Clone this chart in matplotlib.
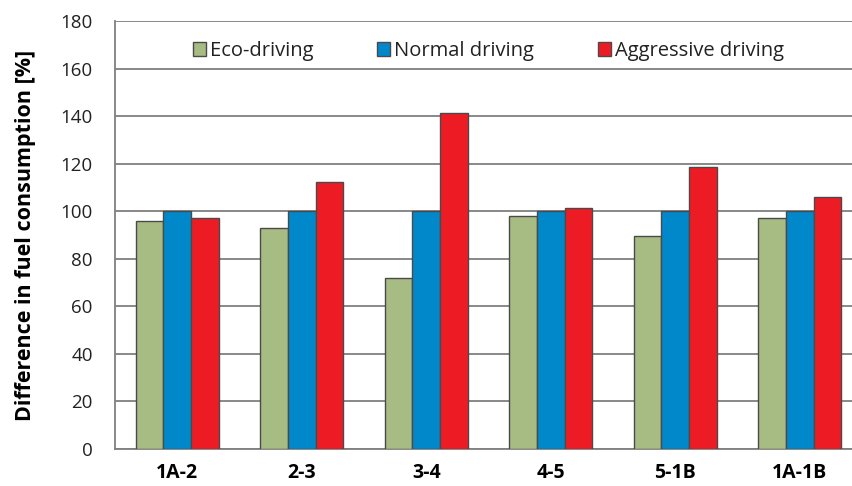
import matplotlib
matplotlib.use("Agg")
import matplotlib.pyplot as plt
import numpy as np

categories = ["1A-2", "2-3", "3-4", "4-5", "5-1B", "1A-1B"]
eco = [96, 93, 72, 98, 89.5, 97]
normal = [100, 100, 100, 100, 100, 100]
aggressive = [97, 112.3, 141.3, 101.3, 118.7, 106]
series_names = ["Eco-driving", "Normal driving", "Aggressive driving"]
colors = ["#A6BC82", "#0088CB", "#ED1C24"]

plt.rcParams['font.family'] = ['Open Sans', 'DejaVu Sans']

fig = plt.figure(figsize=(8.53, 4.86), dpi=100)
ax = fig.add_axes([115/853, 37/486, 747/853, 428/486])

x = np.arange(len(categories))
w = 0.223
for i, (vals, name, c) in enumerate(zip([eco, normal, aggressive], series_names, colors)):
    ax.bar(x + (i - 1) * w, vals, w, color=c, edgecolor="#4a4a4a", linewidth=1.0,
           label=name, zorder=3)

ax.set_xlim(-0.5, len(categories) - 0.5)
ax.set_ylim(0, 180)
ax.set_yticks(np.arange(0, 181, 20))
ax.yaxis.grid(True, color="#7f7f7f", linewidth=1.3, zorder=0)
ax.set_axisbelow(True)
ax.set_xticks(x)
ax.set_xticklabels(categories, fontweight="bold", fontsize=14)
ax.tick_params(axis="x", length=0, pad=10)
ax.tick_params(axis="y", length=0, pad=16, labelsize=13.5, labelcolor="#222222")
for s in ["top", "right"]:
    ax.spines[s].set_visible(False)
ax.spines["left"].set_color("#7f7f7f")
ax.spines["left"].set_linewidth(1.3)
ax.spines["bottom"].set_color("#7f7f7f")
ax.spines["bottom"].set_linewidth(1.3)

ax.set_ylabel("Difference in fuel consumption [%]", fontsize=15.5, fontweight="bold")
ax.yaxis.set_label_coords(-0.106, 0.5)

leg = ax.legend(loc="upper center", bbox_to_anchor=(0.5, 0.995), ncol=3, frameon=False,
                fontsize=14.5, handlelength=0.65, handleheight=0.65, handletextpad=0.2,
                columnspacing=3.15)
for t in leg.get_texts():
    t.set_color("#222222")

fig.savefig("out.png", dpi=100)
